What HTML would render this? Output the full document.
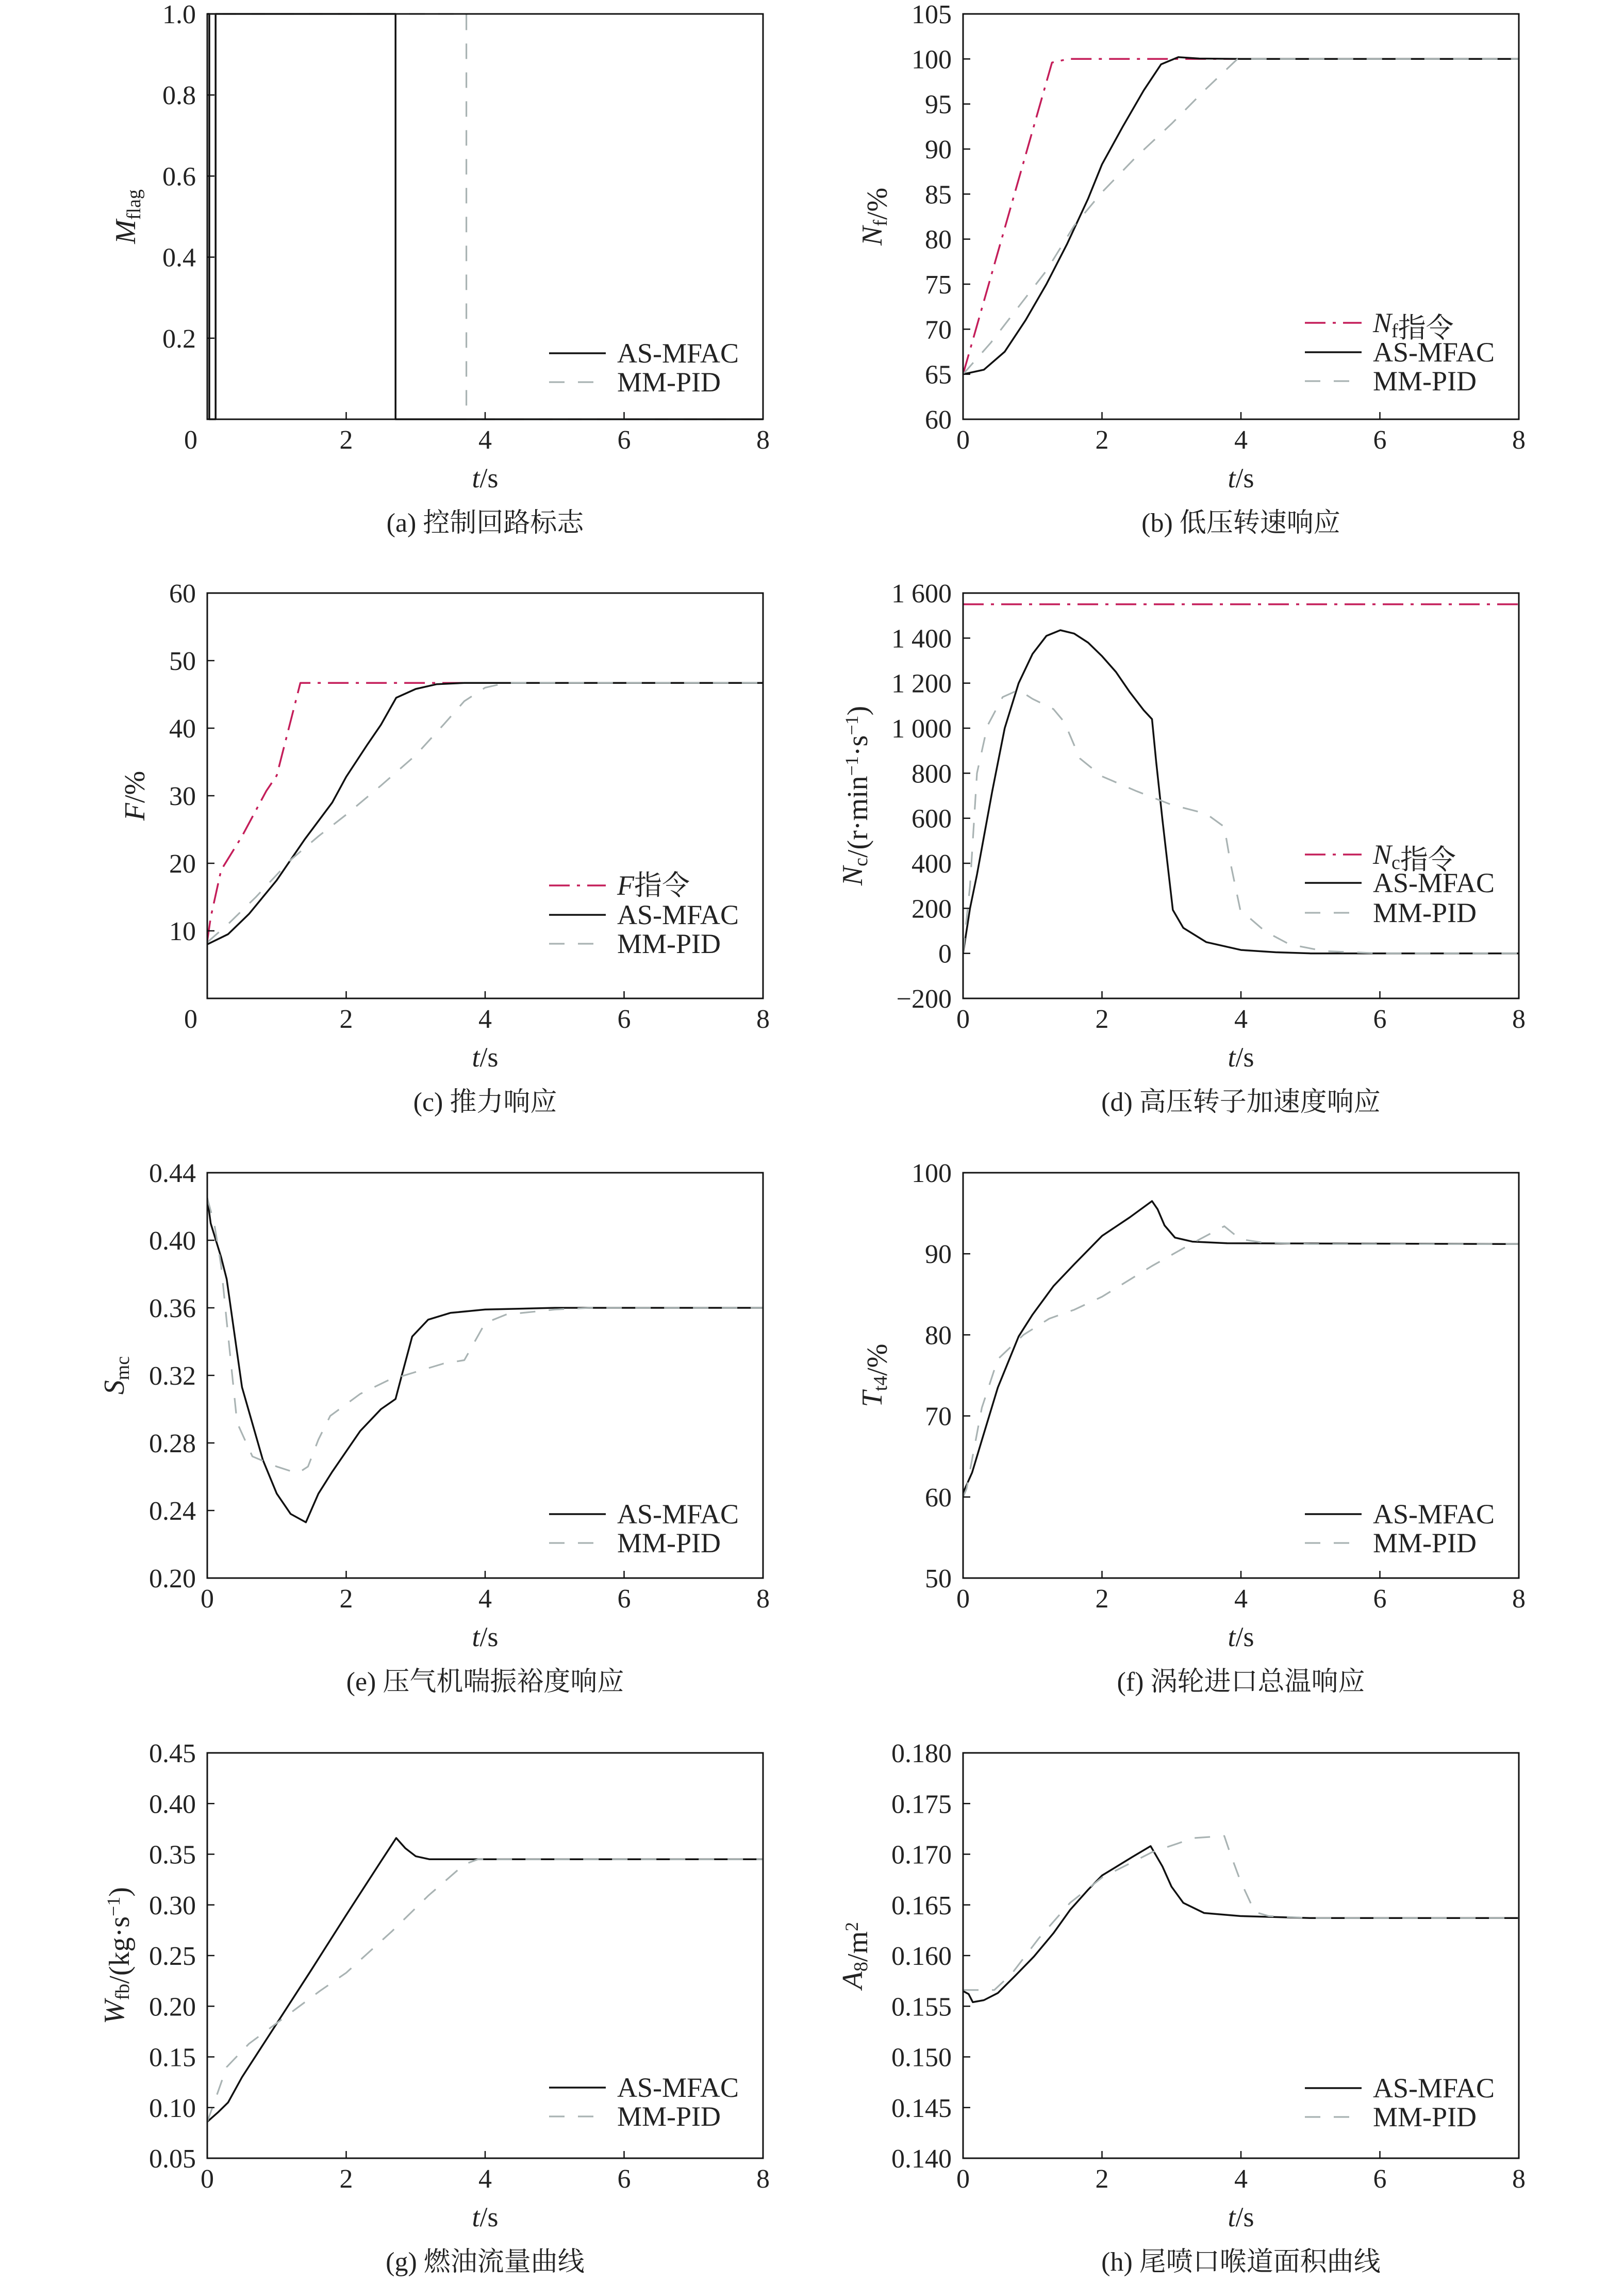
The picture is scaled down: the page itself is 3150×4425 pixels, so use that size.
<!DOCTYPE html>
<html><head><meta charset="utf-8">
<style>
html,body{margin:0;padding:0;background:#fff;}
svg{display:block;}
text{font-family:"Liberation Serif","Noto Serif CJK SC",serif;fill:#222;}
</style></head>
<body>
<svg id="fig" width="3150" height="4425" viewBox="0 0 3150 4425" xmlns="http://www.w3.org/2000/svg">
<rect x="0" y="0" width="3150" height="4425" fill="#fff"/>
</svg>
<script>
// ---------- DATA ----------
// (a) control loop flag
const aT_as = [0,0.03,0.03,0.12,0.12,2.71,2.71,8];
const aV_as = [1,1,0,0,1,1,0,0];
const aT_mm = [0,3.73,3.73,8];
const aV_mm = [1,1,0,0];
// (b) Nf
const bT_cmd = [0,1.28,1.52,8];
const bV_cmd = [65,99.6,100,100];
const bT_as = [0,0.3,0.6,0.9,1.2,1.5,1.8,2.0,2.3,2.6,2.85,3.1,3.4,4,8];
const bV_as = [65,65.5,67.5,71,75,79.5,84.5,88.3,92.5,96.5,99.4,100.2,100.05,100,100];
const bT_mm = [0,0.4,0.8,1.2,1.6,2.0,2.5,3.0,3.5,3.95,8];
const bV_mm = [65,68.5,72.5,76.5,81.5,85.2,89.2,92.8,96.7,100,100];
// (c) thrust
const cT_cmd = [0,0.05,0.2,0.5,0.85,1.0,1.34,8];
const cV_cmd = [8.5,12,19,24,30.7,33,46.7,46.7];
const cT_as = [0,0.3,0.6,1.0,1.4,1.8,2.0,2.3,2.5,2.72,3.0,3.3,3.7,8];
const cV_as = [8,9.5,12.5,17.5,23.5,29,32.8,37.5,40.5,44.5,45.8,46.5,46.7,46.7];
const cT_mm = [0,0.3,0.7,1.2,1.6,2.0,2.5,3.0,3.4,3.7,4.0,4.3,8];
const cV_mm = [8.3,11,15,20.5,24,27.2,31.5,36,40.5,44,46,46.7,46.7];
// (d) Nc acceleration
const dT_cmd = [0,8];
const dV_cmd = [1550,1550];
const dT_as = [0,0.1,0.2,0.42,0.6,0.8,1.0,1.2,1.4,1.6,1.8,2.0,2.2,2.4,2.6,2.72,2.78,2.87,3.02,3.17,3.5,4.0,4.5,5,8];
const dV_as = [0,200,350,720,1000,1200,1330,1410,1435,1420,1380,1320,1250,1160,1080,1040,850,594,193,113,50,15,5,0,0];
const dT_mm = [0,0.1,0.2,0.35,0.57,0.8,1.0,1.3,1.46,1.68,2.0,2.5,3.0,3.5,3.76,3.85,3.99,4.35,4.7,5.2,6,8];
const dV_mm = [0,300,800,1010,1138,1170,1130,1085,1026,866,786,720,660,620,562,400,193,97,40,10,0,0];
// (e) surge margin
const eT_as = [0,0.05,0.2,0.28,0.5,0.8,1.0,1.2,1.42,1.6,1.8,2.0,2.2,2.5,2.71,2.8,2.95,3.18,3.5,4,5,8];
const eV_as = [0.425,0.41,0.39,0.377,0.313,0.27,0.25,0.238,0.233,0.25,0.263,0.275,0.287,0.3,0.306,0.32,0.343,0.353,0.357,0.359,0.36,0.36];
const eT_mm = [0,0.1,0.2,0.28,0.43,0.65,1.0,1.3,1.45,1.6,1.77,2.2,2.6,3.0,3.4,3.7,3.85,4.0,4.3,5.0,5.5,8];
const eV_mm = [0.425,0.41,0.385,0.352,0.292,0.272,0.266,0.262,0.266,0.282,0.296,0.309,0.317,0.322,0.327,0.329,0.34,0.351,0.356,0.359,0.36,0.36];
// (f) Tt4
const fT_as = [0,0.13,0.27,0.5,0.8,1.0,1.3,1.6,2.0,2.4,2.72,2.8,2.9,3.05,3.3,3.8,8];
const fV_as = [60.5,63,67,73.5,79.8,82.5,86,88.7,92.2,94.5,96.5,95.5,93.5,92,91.5,91.3,91.2];
const fT_mm = [0,0.05,0.27,0.5,0.87,1.24,1.6,2.0,2.72,3.32,3.76,3.99,4.3,5,8];
const fV_mm = [60,61,71,77,80,82,83.1,84.7,88.5,91.4,93.4,91.8,91.4,91.2,91.2];
// (g) fuel flow
const gT_as = [0,0.15,0.3,0.5,1.0,1.5,2.0,2.5,2.72,2.85,3.0,3.2,8];
const gV_as = [0.086,0.095,0.105,0.13,0.183,0.236,0.29,0.343,0.366,0.356,0.348,0.345,0.345];
const gT_mm = [0,0.1,0.28,0.6,1.17,1.62,2.0,2.66,3.18,3.7,3.9,8];
const gV_mm = [0.086,0.105,0.14,0.163,0.192,0.215,0.233,0.274,0.309,0.34,0.345,0.345];
// (h) nozzle area
const hT_as = [0,0.08,0.14,0.3,0.5,0.75,1.02,1.3,1.54,1.8,2.0,2.43,2.7,2.87,3.0,3.17,3.47,3.99,5,8];
const hV_as = [0.1565,0.1562,0.1554,0.1556,0.1563,0.158,0.1599,0.1622,0.1645,0.1665,0.1679,0.1697,0.1708,0.1688,0.1668,0.1652,0.1642,0.1639,0.1637,0.1637];
const hT_mm = [0,0.45,0.7,1.09,1.54,2.0,2.72,3.32,3.76,3.84,3.99,4.2,4.4,5,8];
const hV_mm = [0.1566,0.1566,0.1582,0.1617,0.1652,0.1677,0.1702,0.1716,0.1718,0.1702,0.1674,0.1643,0.1639,0.1637,0.1637];

// tick labels
const xTicks = [0,2,4,6,8];
const aYTicks = [0.2,0.4,0.6,0.8,1.0];
const aYLabels = ["0.2","0.4","0.6","0.8","1.0"];
const bYTicks = [60,65,70,75,80,85,90,95,100,105];
const bYLabels = ["60","65","70","75","80","85","90","95","100","105"];
const cYTicks = [10,20,30,40,50,60];
const cYLabels = ["10","20","30","40","50","60"];
const dYTicks = [-200,0,200,400,600,800,1000,1200,1400,1600];
const dYLabels = ["\u2212200","0","200","400","600","800","1 000","1 200","1 400","1 600"];
const eYTicks = [0.20,0.24,0.28,0.32,0.36,0.40,0.44];
const eYLabels = ["0.20","0.24","0.28","0.32","0.36","0.40","0.44"];
const fYTicks = [50,60,70,80,90,100];
const fYLabels = ["50","60","70","80","90","100"];
const gYTicks = [0.05,0.10,0.15,0.20,0.25,0.30,0.35,0.40,0.45];
const gYLabels = ["0.05","0.10","0.15","0.20","0.25","0.30","0.35","0.40","0.45"];
const hYTicks = [0.140,0.145,0.150,0.155,0.160,0.165,0.170,0.175,0.180];
const hYLabels = ["0.140","0.145","0.150","0.155","0.160","0.165","0.170","0.175","0.180"];

// ---------- RENDER ----------
const NS = "http://www.w3.org/2000/svg";
const svg = document.getElementById('fig');
function mk(tag, attrs, parent){
  const e = document.createElementNS(NS, tag);
  for (const k in attrs) e.setAttribute(k, attrs[k]);
  (parent||svg).appendChild(e);
  return e;
}
const COLX = [402, 1868], ROWY = [27, 1150, 2274, 3399], BW = 1078, BH = 786;
const STY = {
  cmd: {stroke:"#c41e5a", w:3.5, dash:"40 14 6 14"},
  as:  {stroke:"#111", w:3.5, dash:""},
  mm:  {stroke:"#a9b3b3", w:3.2, dash:"30 26"}
};

function panel(id, col, row, ymin, ymax, yT, yL, series, yTitle, yTitleX, caption, legendOffsets, zeroShift){
  const x0 = COLX[col], y0 = ROWY[row];
  const g = mk('g', {});
  
  
  const sx = t => x0 + t / 8 * BW;
  const sy = v => y0 + BH - (v - ymin) / (ymax - ymin) * BH;
  const cp = mk('clipPath', {id:'clip-'+id}, g);
  mk('rect', {x:x0, y:y0-2, width:BW, height:BH+4}, cp);
  series.forEach(s => {
    const st = STY[s.kind];
    const pts = s.t.map((t,i) => sx(t).toFixed(1)+','+sy(s.v[i]).toFixed(1)).join(' ');
    const pl = mk('polyline', {points:pts, fill:'none', stroke:st.stroke, 'stroke-width':st.w,
      'stroke-dasharray':st.dash, 'stroke-linejoin':'round', 'clip-path':'url(#clip-'+id+')'}, g);
    
    
  });
  const fr = mk('rect', {x:x0, y:y0, width:BW, height:BH, fill:'none', stroke:'#111', 'stroke-width':3}, g);
  
  
  xTicks.forEach(t => {
    const X = sx(t);
    if (t > 0 && t < 8) mk('line', {x1:X, y1:y0+BH, x2:X, y2:y0+BH-14, stroke:'#111', 'stroke-width':2.5}, g);
    const lx = (t === 0 && zeroShift) ? X - 32 : X;
    const tx = mk('text', {x:lx, y:y0+BH+57, 'font-size':52, 'text-anchor':'middle'}, g);
    tx.textContent = String(t);
    
    
  });
  yT.forEach((v,i) => {
    const Y = sy(v);
    if (Y > y0+1 && Y < y0+BH-1) mk('line', {x1:x0, y1:Y, x2:x0+14, y2:Y, stroke:'#111', 'stroke-width':2.5}, g);
    const tx = mk('text', {x:x0-22, y:Y+18, 'font-size':52, 'text-anchor':'end'}, g);
    tx.textContent = yL[i];
    
    
  });
  const xt = mk('text', {x:x0+BW/2, y:y0+BH+132, 'font-size':54, 'text-anchor':'middle'}, g);
  xt.innerHTML = '<tspan font-style="italic">t</tspan>/s';
  
  
  const cy = y0 + BH/2;
  const yt = mk('text', {x:yTitleX, y:cy, 'font-size':56, 'text-anchor':'middle',
    transform:'rotate(-90 '+yTitleX+' '+cy+')'}, g);
  yt.innerHTML = yTitle;
  
  
  const cap = mk('text', {x:x0+BW/2, y:y0+BH+218, 'font-size':52, 'text-anchor':'middle'}, g);
  cap.textContent = caption;
  
  
  const right = x0 + BW;
  series.forEach((s,i) => {
    const st = STY[s.kind];
    const Y = y0 + BH - legendOffsets[i];
    const ln = mk('line', {x1:right-415, y1:Y, x2:right-305, y2:Y, stroke:st.stroke, 'stroke-width':st.w, 'stroke-dasharray':st.dash}, g);
    
    
    const lt = mk('text', {x:right-283, y:Y+18, 'font-size':54}, g);
    lt.innerHTML = s.label;
    
    
  });
}

const AS = '<tspan>AS-MFAC</tspan>', MM = '<tspan>MM-PID</tspan>';
const sub = s => '<tspan font-size="38" dy="10">'+s+'</tspan><tspan dy="-10"></tspan>';

panel('a',0,0,0,1,aYTicks,aYLabels,
  [{kind:'as',t:aT_as,v:aV_as,label:AS},{kind:'mm',t:aT_mm,v:aV_mm,label:MM}],
  '<tspan font-style="italic">M</tspan>'+sub('flag'),262,'(a) 控制回路标志',[128,72],true);
panel('b',1,0,60,105,bYTicks,bYLabels,
  [{kind:'cmd',t:bT_cmd,v:bV_cmd,label:'<tspan font-style="italic">N</tspan>'+sub('f')+'指令'},
   {kind:'as',t:bT_as,v:bV_as,label:AS},{kind:'mm',t:bT_mm,v:bV_mm,label:MM}],
  '<tspan font-style="italic">N</tspan>'+sub('f')+'/%',1710,'(b) 低压转速响应',[187,130,74],false);
panel('c',0,1,0,60,cYTicks,cYLabels,
  [{kind:'cmd',t:cT_cmd,v:cV_cmd,label:'<tspan font-style="italic">F</tspan>指令'},
   {kind:'as',t:cT_as,v:cV_as,label:AS},{kind:'mm',t:cT_mm,v:cV_mm,label:MM}],
  '<tspan font-style="italic">F</tspan>/%',280,'(c) 推力响应',[219,162,106],true);
panel('d',1,1,-200,1600,dYTicks,dYLabels,
  [{kind:'cmd',t:dT_cmd,v:dV_cmd,label:'<tspan font-style="italic">N</tspan>'+sub('c')+'指令'},
   {kind:'as',t:dT_as,v:dV_as,label:AS},{kind:'mm',t:dT_mm,v:dV_mm,label:MM}],
  '<tspan font-style="italic">N</tspan>'+sub('c')+'/(r·min<tspan font-size="36" dy="-18">−1</tspan><tspan dy="18">·s</tspan><tspan font-size="36" dy="-18">−1</tspan><tspan dy="18">)</tspan>',1672,'(d) 高压转子加速度响应',[279,224,166],false);
panel('e',0,2,0.20,0.44,eYTicks,eYLabels,
  [{kind:'as',t:eT_as,v:eV_as,label:AS},{kind:'mm',t:eT_mm,v:eV_mm,label:MM}],
  '<tspan font-style="italic">S</tspan>'+sub('mc'),240,'(e) 压气机喘振裕度响应',[124,68],false);
panel('f',1,2,50,100,fYTicks,fYLabels,
  [{kind:'as',t:fT_as,v:fV_as,label:AS},{kind:'mm',t:fT_mm,v:fV_mm,label:MM}],
  '<tspan font-style="italic">T</tspan>'+sub('t4')+'/%',1710,'(f) 涡轮进口总温响应',[124,68],false);
panel('g',0,3,0.05,0.45,gYTicks,gYLabels,
  [{kind:'as',t:gT_as,v:gV_as,label:AS},{kind:'mm',t:gT_mm,v:gV_mm,label:MM}],
  '<tspan font-style="italic">W</tspan>'+sub('fb')+'/(kg·s<tspan font-size="36" dy="-18">−1</tspan><tspan dy="18">)</tspan>',240,'(g) 燃油流量曲线',[137,81],false);
panel('h',1,3,0.140,0.180,hYTicks,hYLabels,
  [{kind:'as',t:hT_as,v:hV_as,label:AS},{kind:'mm',t:hT_mm,v:hV_mm,label:MM}],
  '<tspan font-style="italic">A</tspan>'+sub('8')+'/m<tspan font-size="36" dy="-18">2</tspan><tspan dy="18"></tspan>',1672,'(h) 尾喷口喉道面积曲线',[136,80],false);
</script>
</body></html>
